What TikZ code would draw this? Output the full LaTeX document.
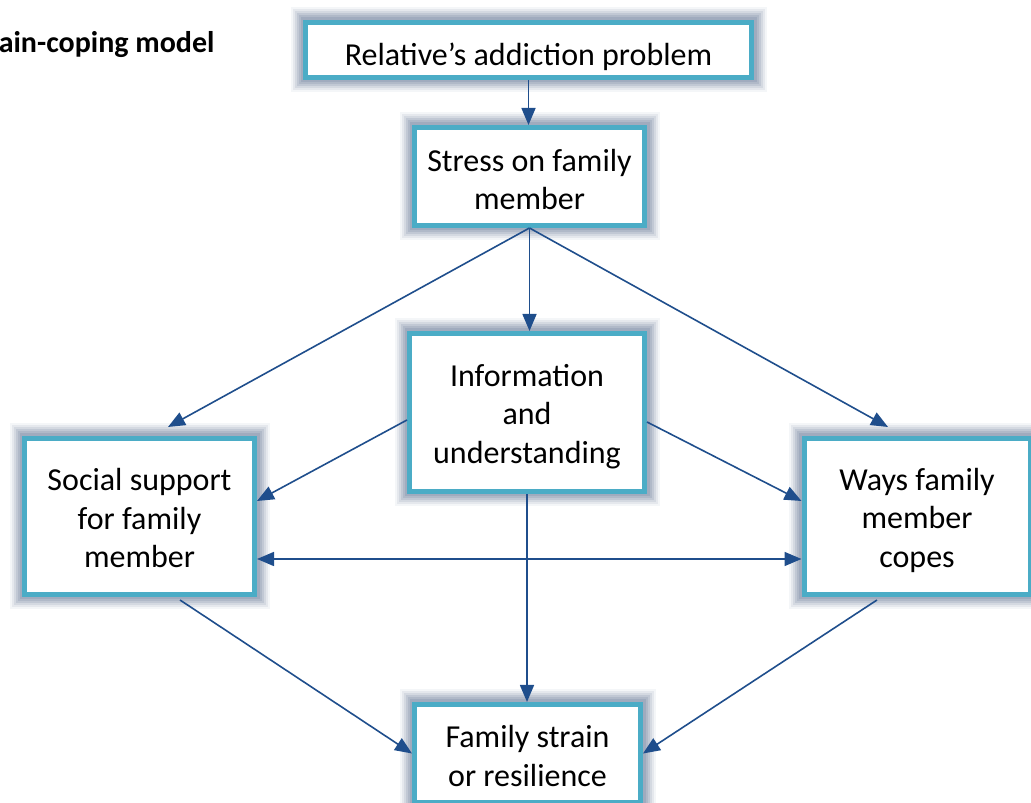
\documentclass[tikz,border=0pt]{standalone}
\usepackage{fontspec}
\setmainfont{Carlito}
\usetikzlibrary{arrows.meta, positioning, calc}

\definecolor{boxteal}{RGB}{75,172,198}
\definecolor{glowgray}{RGB}{120,136,162}
\definecolor{arrowblue}{RGB}{31,78,140}

% strut on the first line, pushes the text a bit lower
\newcommand{\firstline}[1][28pt]{\rule{0pt}{#1}}

\tikzset{
  stage/.style={draw=boxteal, line width=5pt, fill=white, align=center,
    font=\fontsize{32}{38.4}\selectfont, inner sep=4pt,
    preaction={draw=glowgray, draw opacity=0.08, line width=30pt, rounded corners=12pt},
    preaction={draw=glowgray, draw opacity=0.12, line width=26pt, rounded corners=10pt},
    preaction={draw=glowgray, draw opacity=0.16, line width=22pt, rounded corners=8pt},
    preaction={draw=glowgray, draw opacity=0.2, line width=18pt, rounded corners=6pt},
    preaction={draw=glowgray, draw opacity=0.24, line width=14pt, rounded corners=4pt},
    preaction={draw=glowgray, draw opacity=0.28, line width=10pt, rounded corners=2pt}},
  flow/.style={draw=arrowblue, line width=1.6pt, -{Triangle[length=17pt,width=14pt]}},
  both/.style={draw=arrowblue, line width=1.6pt, {Triangle[length=17pt,width=14pt]}-{Triangle[length=17pt,width=14pt]}}
}

\begin{document}
\begin{tikzpicture}[x=1pt, y=1pt]
  \useasboundingbox (0,0) rectangle (1031,803);

  % Titre
  \node[anchor=east, font=\fontsize{30}{34}\selectfont\bfseries] (title) at (218,758) {ain-coping model};

  % Boxes
  \node[stage, minimum width=446, minimum height=55] (relative) at (528.5,753) {\firstline[37pt]Relative’s addiction problem};
  \node[stage, minimum width=230, minimum height=98] (stress) at (529.5,626.5) {\firstline Stress on family\\member};
  \node[stage, minimum width=235, minimum height=158] (info) at (527,390.5) {\firstline[30pt]Information\\and\\understanding};
  \node[stage, minimum width=230, minimum height=156] (social) at (139.5,286.5) {\firstline[26pt]Social support\\for family\\member};
  \node[stage, minimum width=226, minimum height=156] (ways) at (917,286.5) {\firstline[30pt]Ways family\\member\\copes};
  \node[stage, minimum width=226, minimum height=98] (strain) at (527.5,49.5) {\firstline[27pt]Family strain\\or resilience};

  % Arrows
  \draw[flow] (relative.south) -- (relative.south |- stress.north);
  \draw[flow] (stress.south) -- (stress.south |- info.north);
  \draw[flow] (stress.south) -- ($(social.north)+(28.5,9)$);
  \draw[flow] (stress.south) -- ($(ways.north)+(-29,9)$);
  \draw[flow] ($(info.west)+(0,-7.5)$) -- ($(social.east)+(0,15.5)$);
  \draw[flow] ($(info.east)+(0,-9.5)$) -- ($(ways.west)+(0,15.5)$);
  \draw[both] ($(social.east)+(0,-42.5)$) -- ($(ways.west)+(0,-42.5)$);
  \draw[flow] (info.south) -- (info.south |- strain.north);
  \draw[flow] ($(social.south)+(40.5,-3)$) -- (strain.west);
  \draw[flow] ($(ways.south)+(-40,-3)$) -- (strain.east);
\end{tikzpicture}
\end{document}
